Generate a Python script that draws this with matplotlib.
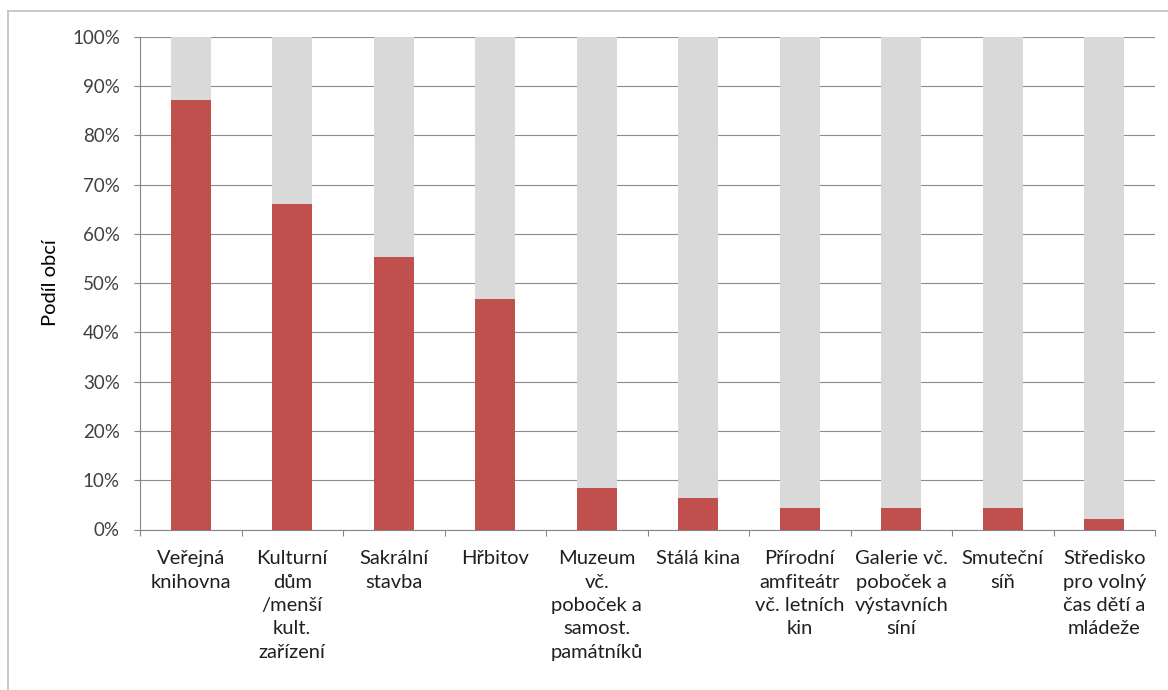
import matplotlib
matplotlib.use("Agg")
import matplotlib.pyplot as plt
import numpy as np
from matplotlib.lines import Line2D

categories = [
    "Veřejná\nknihovna",
    "Kulturní\ndům\n/menší\nkult.\nzařízení",
    "Sakrální\nstavba",
    "Hřbitov",
    "Muzeum\nvč.\npoboček a\nsamost.\npamátníků",
    "Stálá kina",
    "Přírodní\namfiteátr\nvč. letních\nkin",
    "Galerie vč.\npoboček a\nvýstavních\nsíní",
    "Smuteční\nsíň",
    "Středisko\npro volný\nčas dětí a\nmládeže",
]
share = [87.2, 66.0, 55.3, 46.8, 8.5, 6.4, 4.3, 4.3, 4.3, 2.1]
rest = [100 - v for v in share]
yticks = [0, 10, 20, 30, 40, 50, 60, 70, 80, 90, 100]
ylabel = "Podíl obcí"

plt.rcParams['font.family'] = ['Lato', 'DejaVu Sans']

W, H = 1168, 690
fig = plt.figure(figsize=(W / 100, H / 100), dpi=100)
ax = fig.add_axes([140 / W, 1 - 529.5 / H, (1155 - 140) / W, (529.5 - 36.7) / H])

x = np.arange(len(categories))
ax.bar(x, share, width=0.39, color="#C0504D", zorder=3)
ax.bar(x, rest, bottom=share, width=0.39, color="#D9D9D9", zorder=3)

ax.set_xlim(-0.5, len(categories) - 0.5)
ax.set_ylim(0, 100)
ax.set_yticks(yticks)
ax.set_yticklabels([f"{t}%" for t in yticks], fontsize=13.5, color="#404040")
ax.set_xticks(x)
ax.set_xticklabels(categories, fontsize=14.5, color="#202020", linespacing=1.45, va="top")
ax.set_xticks(np.arange(-0.5, len(categories)), minor=True)
ax.tick_params(axis="x", which="major", length=0, pad=15)
ax.tick_params(axis="x", which="minor", length=4.5, width=0.8, color="#868686", direction="out")
ax.tick_params(axis="y", length=4.5, width=0.8, color="#868686", direction="out", pad=10)

ax.yaxis.grid(True, color="#8c8c8c", linewidth=0.8, zorder=0)
ax.set_axisbelow(True)
for s in ["top", "right"]:
    ax.spines[s].set_visible(False)
for s in ["left", "bottom"]:
    ax.spines[s].set_color("#868686")
    ax.spines[s].set_linewidth(0.8)

fig.text(50 / W, 1 - 283 / H, ylabel, rotation=90, ha="center", va="center",
         fontsize=14.5, color="#000000")

# outer chart border (top and left visible)
fig.add_artist(Line2D([8 / W, 1], [1 - 11 / H, 1 - 11 / H], color="#BFBFBF", lw=1.2))
fig.add_artist(Line2D([8 / W, 8 / W], [0, 1 - 11 / H], color="#BFBFBF", lw=1.2))

fig.savefig("out.png", dpi=100)
